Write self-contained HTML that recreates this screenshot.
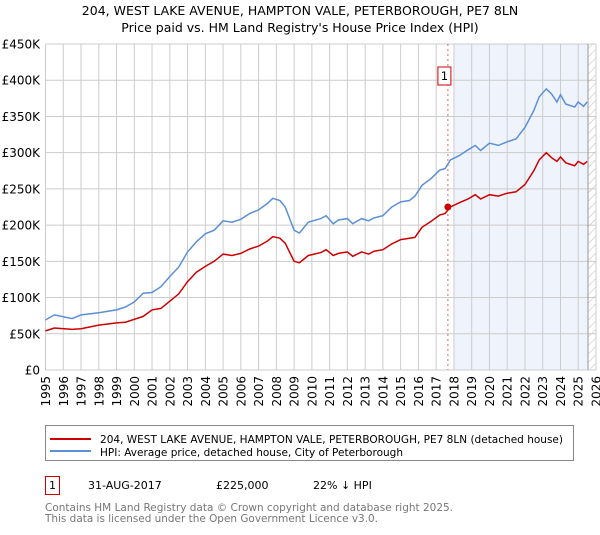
<!DOCTYPE html>
<html><head><meta charset="utf-8"><style>
body{margin:0;background:#fff;font-family:"Liberation Sans","DejaVu Sans",sans-serif;}
svg text{font-family:"DejaVu Sans","Liberation Sans",sans-serif;}
</style></head><body>
<svg id="c" width="600" height="530" xmlns="http://www.w3.org/2000/svg">
<defs><pattern id="hatch" width="6" height="6" patternUnits="userSpaceOnUse" patternTransform="rotate(45)"><line x1="0" y1="0" x2="0" y2="6" stroke="#bbb" stroke-width="1"/></pattern></defs>
<text x="300" y="15" text-anchor="middle" font-size="12.5" fill="#000">204, WEST LAKE AVENUE, HAMPTON VALE, PETERBOROUGH, PE7 8LN</text>
<text x="300" y="32" text-anchor="middle" font-size="12.5" fill="#000">Price paid vs. HM Land Registry's House Price Index (HPI)</text>
<g id="plot"></g>
<rect x="45.5" y="425.5" width="528" height="35" fill="#fff" stroke="#888"/>
<line x1="50" y1="439" x2="91" y2="439" stroke="#cc0000" stroke-width="2"/>
<text x="100" y="443" font-size="11" textLength="463" lengthAdjust="spacingAndGlyphs">204, WEST LAKE AVENUE, HAMPTON VALE, PETERBOROUGH, PE7 8LN (detached house)</text>
<line x1="50" y1="451" x2="91" y2="451" stroke="#5b8fd6" stroke-width="2"/>
<text x="100" y="456" font-size="11" textLength="303" lengthAdjust="spacingAndGlyphs">HPI: Average price, detached house, City of Peterborough</text>
<rect x="45.5" y="476.5" width="14" height="18" fill="#fff" stroke="#cc0000"/>
<text x="52.5" y="489" text-anchor="middle" font-size="11">1</text>
<text x="88" y="489" font-size="11">31-AUG-2017</text>
<text x="216" y="489" font-size="11">£225,000</text>
<text x="313" y="489" font-size="11">22% ↓ HPI</text>
<text x="45" y="511" font-size="11" fill="#777" textLength="408" lengthAdjust="spacingAndGlyphs">Contains HM Land Registry data © Crown copyright and database right 2025.</text>
<text x="45" y="522" font-size="11" fill="#777" textLength="333" lengthAdjust="spacingAndGlyphs">This data is licensed under the Open Government Licence v3.0.</text>
</svg>
<script>
const hpiYears=[1995,1995.5,1996.5,1997,1998,1999,1999.5,2000,2000.5,2001,2001.5,2002,2002.5,2003,2003.5,2004,2004.5,2005,2005.5,2006,2006.5,2007,2007.5,2007.8,2008.2,2008.5,2009,2009.3,2009.8,2010.5,2010.8,2011.2,2011.5,2012,2012.3,2012.8,2013.2,2013.5,2014,2014.5,2015,2015.5,2015.8,2016.2,2016.7,2017.2,2017.5,2017.8,2018.3,2018.8,2019.2,2019.5,2020,2020.5,2021,2021.5,2022,2022.5,2022.8,2023.2,2023.5,2023.8,2024.0,2024.3,2024.8,2025.0,2025.3,2025.5];
const hpiValues=[69,76,71,76,79,83,87,94,106,107,115,129,142,163,177,188,193,206,204,208,216,221,230,237,234,225,193,189,204,209,213,202,207,209,202,209,206,210,213,225,232,234,240,255,264,276,278,290,296,304,310,303,313,310,315,319,335,358,377,388,381,370,380,367,363,370,364,370];
const priceValues=[54,58,56,57,62,65,66,70,74,83,85,95,105,122,135,143,150,160,158,161,167,171,178,184,182,175,150,148,158,162,166,158,161,163,157,163,160,164,166,174,180,182,183,197,205,214,216,225,231,236,242,236,242,240,244,246,256,275,290,300,293,288,294,286,282,288,284,288];
const yTicks=[0,50,100,150,200,250,300,350,400,450];
const yTickLabels=["£0","£50K","£100K","£150K","£200K","£250K","£300K","£350K","£400K","£450K"];
const xTickYears=[1995,1996,1997,1998,1999,2000,2001,2002,2003,2004,2005,2006,2007,2008,2009,2010,2011,2012,2013,2014,2015,2016,2017,2018,2019,2020,2021,2022,2023,2024,2025,2026];
const saleDate=[2017.66];
const salePrice=[225];

const NS="http://www.w3.org/2000/svg";
const g=document.getElementById('plot');
const X0=45.5,X1=596,Y0=370,Y1=44;
const xs=t=>X0+(t-1995)/(2026-1995)*(X1-X0);
const ys=v=>Y0-v/450*(Y0-Y1);
function mk(tag,at){const e=document.createElementNS(NS,tag);for(const k in at)e.setAttribute(k,at[k]);g.appendChild(e);return e;}
let r=mk('rect',{x:X0,y:Y1,width:X1-X0,height:Y0-Y1,fill:'#fff'});


r=mk('rect',{x:xs(2018.0),y:Y1,width:xs(2025.55)-xs(2018.0),height:Y0-Y1,fill:'#eef3fc'});


r=mk('rect',{x:xs(2025.55),y:Y1,width:X1-xs(2025.55),height:Y0-Y1,fill:'url(#hatch)'});


xTickYears.forEach(yr=>{
 const l=mk('line',{x1:xs(yr),x2:xs(yr),y1:Y1,y2:Y0,stroke:'#ccc','stroke-width':1});
 
 
 const t=mk('text',{x:0,y:0,'font-size':12,'text-anchor':'end',transform:`translate(${xs(yr)+4.5},${Y0+6}) rotate(-90)`});
 t.textContent=yr;
 
 
});
yTicks.forEach((v,i)=>{
 const l=mk('line',{x1:X0,x2:X1,y1:ys(v),y2:ys(v),stroke:'#ccc','stroke-width':1});
 
 
 const t=mk('text',{x:40,y:ys(v)+4.5,'font-size':12,'text-anchor':'end'});
 t.textContent=yTickLabels[i];
 
 
});
let l=mk('line',{x1:xs(2025.55),x2:xs(2025.55),y1:Y1,y2:Y0,stroke:'#999','stroke-width':1});


l=mk('line',{x1:xs(saleDate[0]),x2:xs(saleDate[0]),y1:Y1,y2:Y0,stroke:'#e06060','stroke-width':1,'stroke-dasharray':'2,3'});


const pts=a=>a.map((v,i)=>xs(hpiYears[i]).toFixed(1)+','+ys(v).toFixed(1)).join(' ');
let p=mk('polyline',{points:pts(hpiValues),fill:'none',stroke:'#5b8fd6','stroke-width':1.5});


p=mk('polyline',{points:pts(priceValues),fill:'none',stroke:'#cc0000','stroke-width':1.5});


const c=mk('circle',{cx:xs(saleDate[0]),cy:ys(salePrice[0]),r:3.5,fill:'#cc0000'});


const bx=xs(saleDate[0]);
r=mk('rect',{x:bx-10,y:67,width:13,height:18,fill:'#fff',stroke:'#cc0000'});


const t=mk('text',{x:bx-3.5,y:80,'font-size':11.5,'text-anchor':'middle'});
t.textContent='1';


</script>
</body></html>
